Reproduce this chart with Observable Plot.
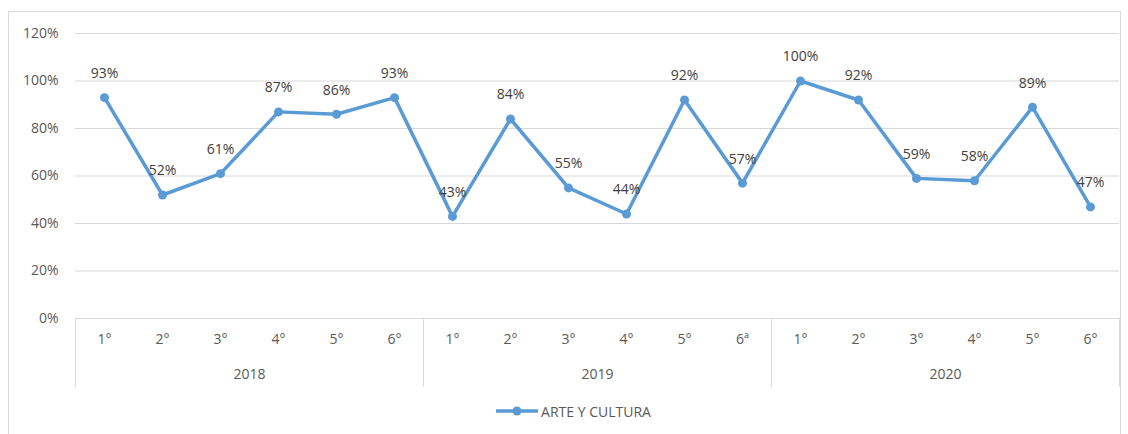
<!DOCTYPE html>
<html>
<head>
<meta charset="utf-8">
<script src="https://cdn.jsdelivr.net/npm/d3@7"></script>
<script src="https://cdn.jsdelivr.net/npm/@observablehq/plot@0.6"></script>
<style>
  html, body { margin: 0; padding: 0; background: #fff; }
  #chart {
    position: absolute; left: 8px; top: 11px;
    width: 1111px; height: 440px;
    border: 1px solid #d9d9d9; border-bottom: none;
    font-family: "Open Sans", sans-serif;
  }
  #legend {
    display: flex; align-items: center; justify-content: center;
    margin-top: 8px; height: 22px; font-size: 14px; color: #595959;
    padding-left: 18px;
  }
  #legend svg { margin-right: 3px; }
</style>
</head>
<body>
<div id="chart"></div>
<script>
const grades = ["1°","2°","3°","4°","5°","6°","1°","2°","3°","4°","5°","6ª","1°","2°","3°","4°","5°","6°"];
const years = ["2018","2019","2020"];
const yearOf = [0,0,0,0,0,0,1,1,1,1,1,1,2,2,2,2,2,2];
const values = [0.93,0.52,0.61,0.87,0.86,0.93,0.43,0.84,0.55,0.44,0.92,0.57,1.00,0.92,0.59,0.58,0.89,0.47];
const seriesName = "ARTE Y CULTURA";
const yTicks = [0,0.2,0.4,0.6,0.8,1.0,1.2];

const data = values.map((v, i) => ({i: i + 0.5, grade: grades[i], value: v, year: years[yearOf[i]]}));
const yearGroups = years.map((y, k) => {
  const idx = yearOf.map((g, i) => g === k ? i : -1).filter(i => i >= 0);
  return {year: y, mid: (idx[0] + idx[idx.length - 1] + 1) / 2};
});
const separators = [0, ...years.map((y, k) => yearOf.lastIndexOf(k) + 1)];

const color = "#5b9bd5";
const textColor = "#595959";

const plot = Plot.plot({
  width: 1111,
  height: 380,
  marginLeft: 66,
  marginRight: 1,
  marginTop: 21,
  marginBottom: 74,
  style: {fontFamily: "'Open Sans', sans-serif", fontSize: "14px", color: textColor, background: "transparent"},
  x: {domain: [0, grades.length], axis: null},
  y: {domain: [0, 1.2], ticks: yTicks, tickFormat: d3.format(".0%"), tickSize: 0, tickPadding: 17, label: null},
  marks: [
    Plot.gridY(yTicks, {stroke: "#d9d9d9", strokeOpacity: 1, strokeWidth: 1}),
    Plot.ruleX(separators, {x: d => d, y1: 0, y2: 0, insetBottom: -69, stroke: "#d9d9d9", strokeWidth: 1}),
    Plot.axisY(yTicks, {tickFormat: d3.format(".0%"), tickSize: 0, tickPadding: 17, fill: textColor, fontSize: 14, label: null}),
    Plot.text(data, {x: "i", text: "grade", frameAnchor: "bottom", dy: 25, fill: textColor, fontSize: 14}),
    Plot.text(yearGroups, {x: "mid", text: "year", frameAnchor: "bottom", dy: 60, fill: textColor, fontSize: 14}),
    Plot.line(data, {x: "i", y: "value", stroke: color, strokeWidth: 3.5, strokeLinejoin: "round"}),
    Plot.dot(data, {x: "i", y: "value", r: 4.5, fill: color, stroke: "none"}),
    Plot.text(data, {x: "i", y: "value", text: d => d3.format(".0%")(d.value), dy: -24, fill: "#404040", fontSize: 14})
  ]
});

const chart = document.getElementById("chart");
chart.appendChild(plot);

const legend = document.createElement("div");
legend.id = "legend";
legend.innerHTML = `<svg width="42" height="12"><line x1="1" y1="6" x2="41" y2="6" stroke="${color}" stroke-width="3.5" stroke-linecap="round"/><circle cx="21" cy="6" r="4.5" fill="${color}"/></svg><span>${seriesName}</span>`;
chart.appendChild(legend);
</script>
</body>
</html>
